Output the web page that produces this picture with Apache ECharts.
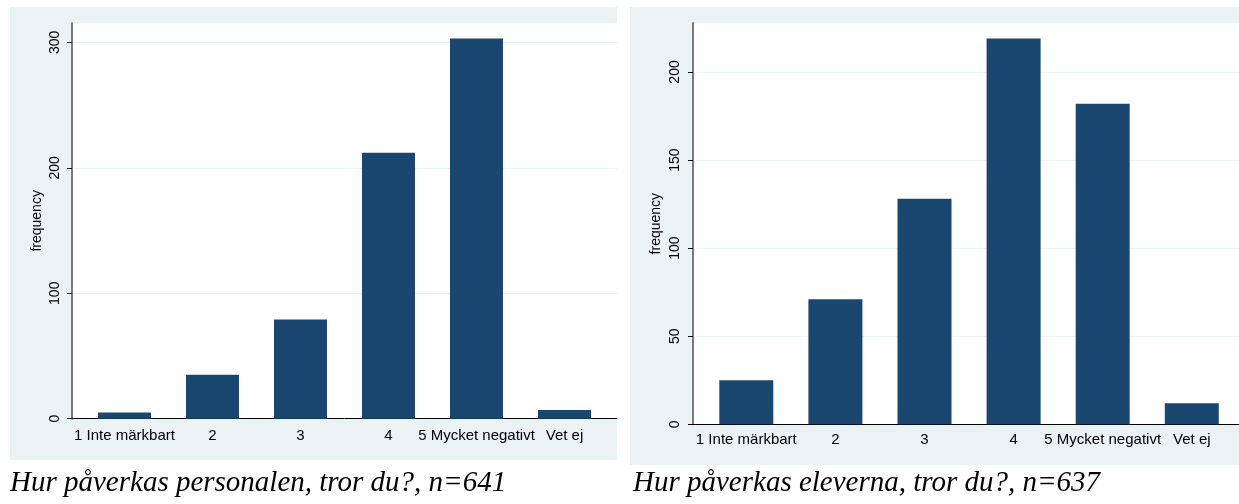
<!DOCTYPE html>
<html>
<head>
<meta charset="utf-8">
<script src="https://cdn.jsdelivr.net/npm/echarts@6/dist/echarts.min.js"></script>
<style>
html,body{margin:0;padding:0;background:#fff;}
#c{width:1239px;height:504px;}
</style>
</head>
<body>
<div id="c"></div>
<script>
// ---- data ----
const categories = ['1 Inte märkbart', '2', '3', '4', '5 Mycket negativt', 'Vet ej'];
const personalValues = [5, 35, 79, 212, 303, 7];
const eleverValues = [25, 71, 128, 219, 182, 12];
const personalTicks = [0, 100, 200, 300];
const eleverTicks = [0, 50, 100, 150, 200];
const personalCaption = 'Hur påverkas personalen, tror du?, n=641';
const eleverCaption = 'Hur påverkas eleverna, tror du?, n=637';
const yName = 'frequency';

// ---- style ----
const BG = '#eaf2f3';
const BAR = '#1a476f';
const SANS = '"Liberation Sans", Arial, sans-serif';
const SERIF = '"Liberation Serif", "Times New Roman", serif';

const chart = echarts.init(document.getElementById('c'), null, {renderer: 'canvas'});

function bgYAxis(gridIndex, max, interval, ticks, margin, nameGap) {
  return {
    type: 'value', gridIndex: gridIndex, min: 0, max: max, interval: interval,
    name: yName, nameLocation: 'middle', nameGap: nameGap, nameRotate: 90,
    nameTextStyle: {fontFamily: SANS, fontSize: 14, color: '#000'},
    axisLine: {show: true, lineStyle: {color: '#7a7a7a', width: 2}},
    axisTick: {show: true, length: 5, customValues: ticks, lineStyle: {color: '#000', width: 1}},
    axisLabel: {rotate: 90, margin: margin, customValues: ticks, fontFamily: SANS, fontSize: 14, color: '#000'},
    splitLine: {show: true, lineStyle: {color: BG, width: 1}}
  };
}
function barYAxis(gridIndex, max) {
  return {type: 'value', gridIndex: gridIndex, min: 0, max: max, show: false, splitLine: {show: false}};
}
function bgXAxis(gridIndex) {
  return {
    type: 'category', gridIndex: gridIndex, data: [''], boundaryGap: true,
    axisLine: {show: true, lineStyle: {color: '#000', width: 1}},
    axisTick: {show: false}, axisLabel: {show: false}, splitLine: {show: false}
  };
}
function barXAxis(gridIndex, margin) {
  return {
    type: 'category', gridIndex: gridIndex, data: categories,
    axisLine: {show: false}, axisTick: {show: false},
    axisLabel: {interval: 0, margin: margin, fontFamily: SANS, fontSize: 15, color: '#000'}
  };
}

const LMAX = 315.4, RMAX = 227.8;

chart.setOption({
  animation: false,
  backgroundColor: '#fff',
  graphic: {
    elements: [
      {type: 'rect', z: -10, shape: {x: 10, y: 7, width: 607, height: 453}, style: {fill: BG}},
      {type: 'rect', z: -10, shape: {x: 630, y: 7, width: 620, height: 458}, style: {fill: BG}},
      {type: 'text', z: 10, x: 10, y: 483, style: {text: personalCaption, fontFamily: SERIF, fontStyle: 'italic', fontSize: 29, fill: '#000', verticalAlign: 'middle'}},
      {type: 'text', z: 10, x: 633, y: 483, style: {text: eleverCaption, fontFamily: SERIF, fontStyle: 'italic', fontSize: 29, fill: '#000', verticalAlign: 'middle'}}
    ]
  },
  grid: [
    {left: 72, top: 23, width: 545, height: 395.7, show: true, backgroundColor: '#fff', borderWidth: 0, containLabel: false},
    {left: 80.5, top: 23, width: 528, height: 395.7, containLabel: false},
    {left: 693, top: 23, width: 560, height: 401.3, show: true, backgroundColor: '#fff', borderWidth: 0, containLabel: false},
    {left: 701.75, top: 23, width: 534.6, height: 401.3, containLabel: false}
  ],
  xAxis: [bgXAxis(0), barXAxis(1, 10), bgXAxis(2), barXAxis(3, 8)],
  yAxis: [
    bgYAxis(0, LMAX, 100, personalTicks, 10, 28),
    barYAxis(1, LMAX),
    bgYAxis(2, RMAX, 50, eleverTicks, 11, 30),
    barYAxis(3, RMAX)
  ],
  series: [
    {type: 'bar', xAxisIndex: 0, yAxisIndex: 0, data: []},
    {type: 'bar', xAxisIndex: 1, yAxisIndex: 1, data: personalValues, barWidth: 53, itemStyle: {color: BAR}, z: 5},
    {type: 'bar', xAxisIndex: 2, yAxisIndex: 2, data: []},
    {type: 'bar', xAxisIndex: 3, yAxisIndex: 3, data: eleverValues, barWidth: 54, itemStyle: {color: BAR}, z: 5}
  ]
});
</script>
</body>
</html>
